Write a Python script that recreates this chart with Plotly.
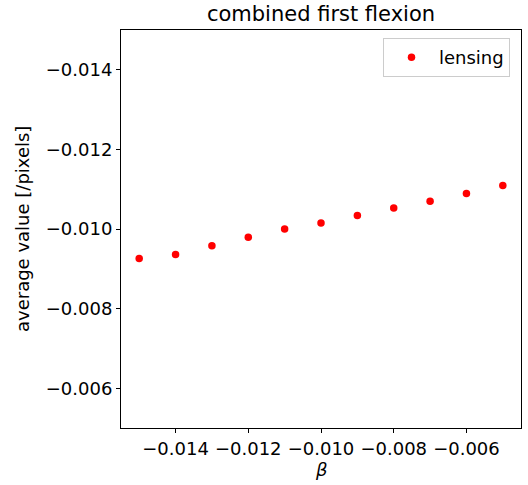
import plotly.graph_objects as go

beta = [-0.015, -0.014, -0.013, -0.012, -0.011, -0.010, -0.009, -0.008, -0.007, -0.006, -0.005]
avg_value = [-0.00926, -0.00936, -0.00958, -0.00979, -0.01000, -0.01015,
             -0.01034, -0.01053, -0.01070, -0.01089, -0.01109]
errors = [0.00002] * len(beta)
y_ticks = [-0.014, -0.012, -0.010, -0.008, -0.006]
x_ticks = [-0.014, -0.012, -0.010, -0.008, -0.006]

FONT = "DejaVu Sans"

fig = go.Figure()
fig.add_trace(go.Scatter(
    x=beta, y=avg_value, mode="markers", name="lensing",
    marker=dict(color="red", size=7.5),
    error_y=dict(type="data", array=errors, color="red", thickness=1.5, width=0),
))

axis_common = dict(
    showline=True, linecolor="black", linewidth=1, mirror=True,
    ticks="outside", ticklen=4, tickwidth=1, tickcolor="black",
    showgrid=False, zeroline=False, automargin=False,
    tickfont=dict(family=FONT, size=18, color="black"),
)

fig.update_layout(
    width=528, height=485,
    margin=dict(l=121, r=7, t=30, b=57, autoexpand=False),
    plot_bgcolor="white", paper_bgcolor="white",
    font=dict(family=FONT, size=18, color="black"),
    title=dict(text="combined first flexion", xref="paper", x=0.5, xanchor="center",
               yref="container", y=1 - 14 / 485, yanchor="middle",
               font=dict(family=FONT, size=21, color="black")),
    xaxis=dict(range=[-0.0155, -0.0045], tickvals=x_ticks,
               ticktext=[f"\u2212{abs(v):.3f}" for v in x_ticks],
               **axis_common),
    yaxis=dict(range=[-0.005, -0.015], tickvals=y_ticks,
               ticktext=[f"\u2212{abs(v):.3f}" for v in y_ticks],
               **axis_common),
    showlegend=True,
    legend=dict(x=0.9725, y=0.98, xanchor="right", yanchor="top",
                bgcolor="white", bordercolor="#cccccc", borderwidth=1,
                itemwidth=45,
                font=dict(family=FONT, size=18)),
    annotations=[
        dict(text="<i>β</i>", xref="paper", yref="paper", x=0.5, y=-42 / 398,
             xanchor="center", yanchor="middle", showarrow=False,
             font=dict(family=FONT, size=18, color="black")),
        dict(text="average value [/pixels]", xref="paper", yref="paper",
             x=-99 / 400, y=0.5, xanchor="center", yanchor="middle",
             textangle=-90, showarrow=False,
             font=dict(family=FONT, size=18, color="black")),
    ],
)

post = ("document.body.style.margin='0';document.body.style.padding='0';"
        "document.body.style.overflow='hidden';"
        "window.dispatchEvent(new Event('resize'));")

fig.write_html("out.html", post_script=post, config={"displayModeBar": False})
